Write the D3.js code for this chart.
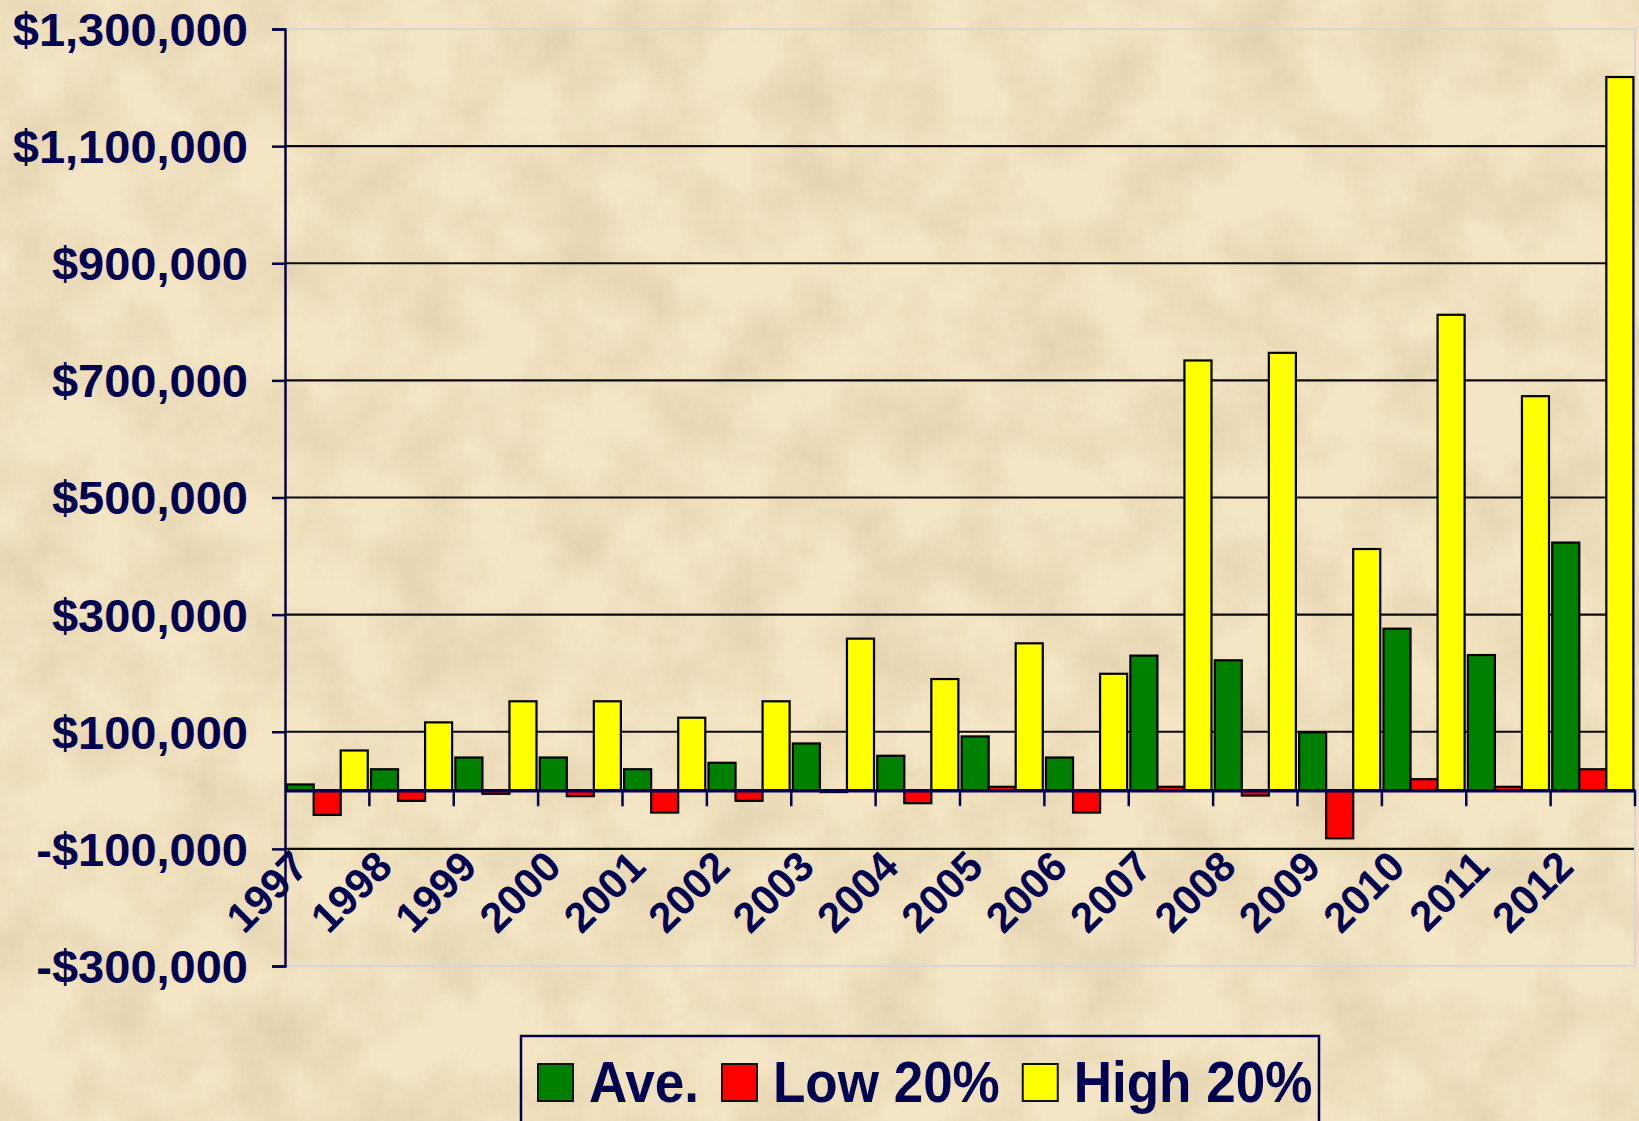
<!DOCTYPE html>
<html>
<head>
<meta charset="utf-8">
<script src="https://cdn.jsdelivr.net/npm/d3@7"></script>
<style>
  body { margin: 0; background: #efdfba; }
  svg { display: block; }
  text { font-family: "Liberation Sans", Arial, sans-serif; font-weight: bold; fill: #000050; }
</style>
</head>
<body>
<script>
// values
const years = ["1997","1998","1999","2000","2001","2002","2003","2004","2005","2006","2007","2008","2009","2010","2011","2012"];
const ave  = [10000, 36000, 56000, 56000, 36000, 47000, 80000, 59000, 92000, 56000, 230000, 222000, 99000, 276000, 231000, 423000];
const low  = [-42000, -18000, -6000, -10000, -38000, -18000, -3000, -22000, 6000, -38000, 6000, -9000, -82000, 19000, 6000, 36000];
const high = [68000, 116000, 152000, 152000, 124000, 152000, 259000, 190000, 251000, 199000, 734000, 747000, 412000, 812000, 673000, 1218000];
const seriesNames = ["Ave.", "Low 20%", "High 20%"];
const seriesColors = ["#008000", "#ff0000", "#ffff00"];
const yTicks = [1300000, 1100000, 900000, 700000, 500000, 300000, 100000, -100000, -300000];

const W = 1639, H = 1121,
    plot = {left: 285, right: 1635, top: 29, bottom: 966},
    navy = "#000050";

const rows = years.map((y, i) => ({year: y, values: [ave[i], low[i], high[i]]}));

const svg = d3.select("body").append("svg").attr("width", W).attr("height", H);

// parchment background
const defs = svg.append("defs");
const f = defs.append("filter").attr("id", "paper")
    .attr("x", 0).attr("y", 0).attr("width", "100%").attr("height", "100%");
f.append("feTurbulence").attr("type", "fractalNoise").attr("baseFrequency", "0.013")
    .attr("numOctaves", 5).attr("seed", 7);
f.append("feColorMatrix").attr("type", "matrix")
    .attr("values", "0 0 0 0 0.62  0 0 0 0 0.50  0 0 0 0 0.30  0.8 0 0 0 -0.27");

svg.append("rect").attr("width", W).attr("height", H).attr("fill", "#f4e5c4");
svg.append("rect").attr("width", W).attr("height", H).attr("filter", "url(#paper)");

const y = d3.scaleLinear()
    .domain([-300000, 1300000])
    .range([plot.bottom, plot.top]);

const x = d3.scaleBand()
    .domain(years)
    .range([plot.left, plot.right]);

const xs = d3.scaleBand()
    .domain(d3.range(3))
    .range([0, x.bandwidth()])
    .paddingOuter(0.06);

const fmt = d => (d < 0 ? "-$" : "$") + d3.format(",")(Math.abs(d));

// gridlines (inner ones black)
svg.append("g").selectAll("line")
    .data(yTicks.slice(1, -1))
    .join("line")
    .attr("x1", plot.left).attr("x2", plot.right)
    .attr("y1", d => y(d)).attr("y2", d => y(d))
    .attr("stroke", "#0a0a0a").attr("stroke-width", 2.2);

// plot area border (light)
svg.append("path")
    .attr("d", "M" + plot.left + "," + plot.top + "H" + plot.right + "V" + plot.bottom + "H" + plot.left)
    .attr("fill", "none").attr("stroke", "#d6d6d6").attr("stroke-width", 2);

// bars
const groups = svg.append("g").selectAll("g")
    .data(rows)
    .join("g")
    .attr("transform", d => "translate(" + x(d.year) + ",0)");

groups.selectAll("rect")
    .data(d => d.values)
    .join("rect")
    .attr("x", (d, i) => xs(i))
    .attr("width", xs.bandwidth())
    .attr("y", d => y(Math.max(0, d)))
    .attr("height", d => Math.abs(y(d) - y(0)))
    .attr("fill", (d, i) => seriesColors[i])
    .attr("stroke", "#000").attr("stroke-width", 2.2);

// y axis
const yAxis = d3.axisLeft(y).tickValues(yTicks).tickFormat(fmt).tickSize(13).tickPadding(24);
const gy = svg.append("g").attr("transform", "translate(" + plot.left + ",0)").call(yAxis);
gy.select(".domain").attr("stroke", navy).attr("stroke-width", 2.5);
gy.selectAll(".tick line").attr("stroke", navy).attr("stroke-width", 2.5);
gy.selectAll(".tick text")
    .attr("font-size", 47).attr("fill", navy)
    .attr("font-family", "Liberation Sans, Arial, sans-serif").attr("font-weight", "bold")
    .attr("dy", "0.35em");

// category axis at zero
const xAxis = d3.axisBottom(x).tickSize(0).tickFormat("");
const gx = svg.append("g").attr("transform", "translate(0," + y(0) + ")").call(xAxis);
gx.select(".domain").attr("stroke", navy).attr("stroke-width", 3.5);

svg.append("g").selectAll("line")
    .data(years.slice(1).concat(["end"]))
    .join("line")
    .attr("x1", d => d === "end" ? plot.right : x(d))
    .attr("x2", d => d === "end" ? plot.right : x(d))
    .attr("y1", y(0)).attr("y2", y(0) + 16)
    .attr("stroke", navy).attr("stroke-width", 2.5);

// rotated year labels
svg.append("g").selectAll("text")
    .data(years)
    .join("text")
    .attr("transform", d => "translate(" + (x(d) + x.bandwidth() / 2 - 17) + ",869) rotate(-45)")
    .attr("text-anchor", "end")
    .attr("font-size", 42)
    .text(d => d);

// legend
const lg = svg.append("g");
lg.append("rect")
    .attr("x", 521).attr("y", 1036).attr("width", 798).attr("height", 110)
    .attr("fill", "none").attr("stroke", navy).attr("stroke-width", 2.5);

let lx = 538;
seriesNames.forEach((name, i) => {
    lg.append("rect")
        .attr("x", lx).attr("y", 1064).attr("width", 35).attr("height", 37)
        .attr("fill", seriesColors[i]).attr("stroke", "#111").attr("stroke-width", 2);
    const t = lg.append("text")
        .attr("x", lx + 51).attr("y", 1102)
        .attr("font-size", 53)
        .attr("transform", "translate(0,1102) scale(1,1.08) translate(0,-1102)")
        .text(name);
    lx = lx + 51 + t.node().getComputedTextLength() + 23;
});
</script>
</body>
</html>
